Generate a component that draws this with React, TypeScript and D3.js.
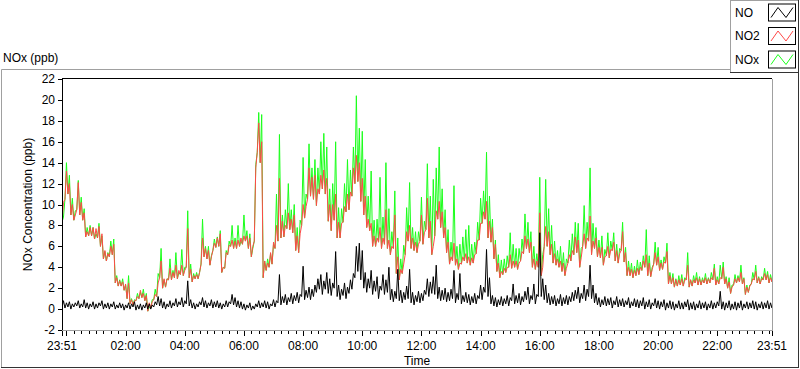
import React from "react";
import * as d3 from "d3";

// Each series read as a band (low / high) per 6-minute slot, 23:51 -> 23:51 next day (241 slots)
const STEP_MIN = 6;

const NO2_HI = [
  10.2,13.2,12.0,10.0,9.0,12.1,10.2,9.2,7.4,7.8,
  7.8,7.7,7.9,7.2,5.6,5.3,6.0,6.2,3.0,2.7,
  2.6,2.4,2.5,0.9,0.8,1.2,1.8,1.5,1.3,0.6,
  0.7,1.4,2.5,4.6,2.9,2.9,3.9,3.5,4.2,3.7,
  4.2,3.7,7.7,3.8,3.2,3.3,3.5,6.8,5.8,5.6,
  5.0,6.3,6.8,7.2,4.0,5.4,6.1,6.6,6.5,6.6,
  6.8,7.0,7.0,6.8,6.0,13.5,17.8,16.0,4.6,4.4,
  5.4,6.4,8.0,12.5,8.4,8.0,9.2,8.6,9.0,7.0,
  7.2,10.0,9.8,13.5,12.6,12.8,11.5,12.8,13.3,12.5,
  10.0,10.0,11.0,8.3,8.2,9.8,11.0,11.2,13.5,14.7,
  14.0,12.5,10.8,8.6,8.2,7.0,6.8,7.8,6.8,9.5,
  6.6,6.0,9.0,5.0,3.8,4.3,7.4,8.0,6.8,6.4,
  6.2,9.0,7.3,10.6,8.4,6.0,9.4,10.3,9.3,7.8,
  6.4,5.0,6.3,4.8,4.4,5.0,5.3,5.0,4.9,5.2,
  6.6,8.2,9.3,10.3,8.4,7.8,6.2,4.4,3.6,3.9,
  4.0,5.2,4.6,4.6,4.4,5.5,7.0,6.7,6.4,4.8,
  4.6,9.2,4.0,7.9,7.4,6.2,5.3,4.8,4.6,4.4,
  3.9,5.2,5.6,6.9,6.6,4.9,7.2,6.8,8.9,6.5,
  6.8,5.9,5.9,5.0,6.0,5.7,6.4,5.6,5.3,7.4,
  5.4,4.0,3.8,3.7,3.9,4.0,4.6,5.2,4.4,3.8,
  5.4,5.0,4.4,4.5,5.5,3.2,3.0,2.8,2.8,2.9,
  2.8,4.2,2.8,2.8,3.0,2.9,2.8,3.0,2.9,3.0,
  3.9,2.8,3.0,4.0,2.9,2.6,2.1,2.9,3.0,3.5,
  2.9,2.1,2.2,2.9,3.6,3.0,2.9,3.4,3.3,3.0,
  3.2,
];

const NO2_LO = [
  8.3,10.5,11.0,9.0,8.5,9.5,9.0,8.5,6.9,7.0,
  7.0,6.7,6.8,6.0,4.8,4.6,5.0,5.2,2.5,2.2,
  2.2,1.8,1.0,0.5,0.4,0.8,1.0,1.1,0.8,-0.2,
  0.1,0.9,1.2,3.0,2.0,2.1,2.8,2.8,3.0,2.9,
  3.3,3.2,4.0,3.0,2.6,2.9,2.9,4.3,5.0,4.8,
  4.2,5.6,5.9,6.0,3.5,3.9,5.2,6.0,5.8,5.8,
  6.0,6.2,6.5,5.8,5.0,6.5,15.0,14.0,3.0,3.7,
  4.0,4.3,5.8,6.5,6.8,6.9,7.7,7.6,7.3,5.6,
  5.4,8.0,8.7,10.5,10.8,10.5,9.9,11.0,11.5,11.0,
  8.4,7.5,8.5,6.8,6.8,8.3,9.3,9.5,10.8,12.0,
  12.2,10.3,9.0,7.8,7.5,6.0,6.0,6.4,5.8,6.2,
  5.8,5.2,5.8,3.4,2.8,3.4,5.2,6.5,5.8,5.6,
  5.4,6.5,6.2,7.6,6.8,5.2,7.0,8.6,7.8,6.8,
  5.4,4.3,4.6,4.2,3.8,4.3,4.6,4.4,4.2,4.4,
  5.3,6.6,8.2,8.6,6.8,6.4,4.8,3.6,3.0,3.3,
  3.5,4.0,3.9,4.0,3.8,4.6,5.3,5.8,5.4,4.0,
  3.8,4.0,3.2,6.0,6.0,5.2,4.4,4.2,4.0,3.6,
  3.2,4.4,4.6,5.2,5.4,4.0,6.0,5.8,6.5,5.2,
  5.8,5.0,4.9,4.2,5.1,4.9,5.6,4.6,4.4,5.6,
  4.5,3.2,3.2,3.0,3.2,3.3,3.7,4.0,3.2,3.1,
  4.3,4.2,3.7,3.8,4.4,2.4,2.4,2.1,2.2,2.3,
  2.2,2.8,2.1,2.2,2.5,2.3,2.3,2.5,2.4,2.5,
  2.8,2.3,2.4,2.9,2.4,2.0,1.5,2.3,2.5,2.6,
  2.4,1.4,1.6,2.4,2.8,2.5,2.4,2.8,2.8,2.5,
  2.6,
];

const NO_HI = [
  0.8,0.6,0.7,0.5,0.6,0.8,0.5,0.9,0.6,0.5,
  0.7,0.5,0.6,0.8,0.5,0.6,0.5,0.7,0.4,0.6,
  0.5,0.4,0.6,0.5,0.7,0.4,0.5,0.4,0.6,0.5,
  0.4,0.7,1.2,1.0,0.7,0.5,0.8,0.6,1.0,0.7,
  1.1,0.8,2.7,0.9,0.6,0.5,0.7,1.1,0.8,0.6,
  0.9,0.7,0.8,0.6,0.5,0.8,0.7,1.4,1.1,0.8,
  0.7,0.5,0.4,0.6,0.3,0.5,0.8,0.6,0.8,0.7,
  0.5,0.9,0.8,3.3,1.2,1.4,1.1,1.5,1.3,1.6,
  1.4,4.1,1.8,2.1,1.9,2.3,2.9,3.3,2.7,3.5,
  2.9,2.5,5.5,2.3,1.9,2.5,2.1,2.8,3.4,6.0,
  6.3,5.6,3.5,2.9,3.7,2.7,3.1,2.2,3.3,2.8,
  4.0,1.9,1.7,3.8,1.8,1.6,2.2,3.8,1.6,1.3,
  1.7,1.5,1.8,2.9,2.6,3.1,4.2,2.1,1.8,2.0,
  1.6,1.9,3.7,1.5,3.4,1.3,1.6,1.4,1.2,1.5,
  1.3,2.3,2.1,5.7,3.0,1.3,1.1,0.9,1.2,1.0,
  1.3,1.1,2.4,1.3,1.5,1.2,1.7,2.1,1.3,2.4,
  1.4,7.3,2.9,2.3,1.5,1.2,1.3,1.0,1.4,1.1,
  1.3,1.2,1.6,1.8,2.1,1.5,2.3,1.9,4.2,2.3,
  1.5,1.1,0.9,1.2,1.0,1.1,0.8,1.2,0.9,1.0,
  0.8,1.1,0.7,1.0,0.9,0.8,1.1,0.7,0.9,0.6,
  1.0,0.8,0.7,0.9,0.6,0.8,0.7,0.5,0.8,0.6,
  0.7,0.9,0.6,0.7,0.5,0.8,0.6,0.7,0.5,0.8,
  0.6,0.7,1.7,0.7,0.6,0.8,0.5,0.7,0.6,0.8,
  0.5,0.7,0.6,0.8,0.7,0.5,0.7,0.6,0.8,0.6,
  0.7,
];

const NO_LO = [
  0.2,0.1,0.2,0.0,0.2,0.3,0.1,0.2,0.1,0.0,
  0.2,0.0,0.1,0.3,0.0,0.1,0.0,0.2,0.0,0.1,
  0.1,-0.1,0.1,0.0,0.2,-0.1,0.0,-0.1,0.1,0.0,
  0.0,0.2,0.4,0.3,0.1,0.0,0.2,0.1,0.3,0.2,
  0.4,0.2,0.5,0.3,0.1,0.0,0.2,0.4,0.2,0.1,
  0.3,0.1,0.2,0.1,0.0,0.2,0.2,0.5,0.4,0.2,
  0.1,0.0,-0.1,0.1,-0.1,0.0,0.2,0.1,0.2,0.1,
  0.0,0.3,0.2,0.6,0.4,0.6,0.4,0.7,0.5,0.8,
  0.6,1.2,0.9,1.1,0.9,1.2,1.6,1.9,1.4,1.9,
  1.5,1.3,2.0,1.2,0.9,1.3,1.0,1.5,1.9,3.0,
  3.6,2.8,2.0,1.6,2.0,1.4,1.7,1.0,1.8,1.4,
  1.6,0.9,0.7,1.0,0.8,0.6,0.9,1.0,0.6,0.4,
  0.7,0.6,0.8,1.4,1.2,1.5,1.4,1.0,0.8,0.9,
  0.7,0.8,1.0,0.6,0.9,0.5,0.7,0.6,0.4,0.6,
  0.5,1.0,0.9,1.6,1.2,0.5,0.3,0.2,0.4,0.3,
  0.5,0.3,0.8,0.5,0.6,0.4,0.7,0.9,0.5,0.9,
  0.5,1.2,1.2,0.9,0.6,0.4,0.5,0.3,0.5,0.3,
  0.5,0.4,0.7,0.8,1.0,0.6,1.0,0.8,1.2,1.0,
  0.6,0.4,0.2,0.4,0.3,0.4,0.1,0.4,0.2,0.3,
  0.2,0.4,0.1,0.3,0.2,0.1,0.3,0.0,0.2,0.0,
  0.3,0.1,0.0,0.2,-0.1,0.1,0.0,-0.1,0.1,0.0,
  0.0,0.2,-0.1,0.0,-0.1,0.1,0.0,0.1,-0.1,0.1,
  0.0,0.1,0.3,0.0,-0.1,0.1,-0.1,0.0,-0.1,0.1,
  -0.1,0.1,0.0,0.1,0.0,-0.1,0.1,0.0,0.1,0.0,
  0.1,
];

const NOX_HI = [
  8.8,14.0,12.8,10.6,9.4,12.3,10.7,9.6,7.8,8.0,
  7.8,7.2,8.2,7.0,5.5,5.4,6.5,6.7,3.2,2.8,
  2.9,2.3,3.2,1.0,0.9,1.5,1.6,1.9,1.5,0.2,
  0.9,1.9,3.4,5.8,2.8,2.9,4.8,3.7,5.4,3.5,
  5.7,4.0,9.4,4.3,3.4,3.5,3.5,8.6,6.0,6.0,
  5.1,6.7,6.9,7.5,4.0,5.6,6.5,8.0,6.8,8.0,
  6.5,9.0,7.5,7.2,5.8,13.8,18.8,18.6,4.6,4.8,
  5.3,6.2,11.0,16.7,9.0,9.5,12.0,9.5,10.0,7.8,
  8.5,14.5,11.0,15.8,13.5,14.3,13.5,16.0,16.8,15.5,
  11.5,12.0,16.0,9.7,9.6,12.0,14.3,13.3,15.5,20.4,
  17.3,17.0,14.3,10.8,13.2,8.5,8.6,12.6,8.8,14.0,
  9.6,7.4,11.3,6.8,4.8,6.1,9.7,12.1,7.8,7.4,
  7.4,10.7,8.4,13.9,10.8,12.4,13.5,15.5,11.5,9.5,
  7.6,6.4,11.8,6.0,6.2,6.9,7.6,8.0,6.2,6.4,
  8.3,10.6,11.3,15.0,10.8,8.6,6.6,5.2,4.7,4.8,
  5.1,7.3,6.2,5.8,5.8,6.7,9.1,8.3,7.4,6.0,
  5.3,12.6,5.2,12.4,9.6,8.0,6.5,5.6,6.0,5.4,
  4.8,6.6,7.2,8.3,8.2,5.8,9.9,8.3,13.5,8.2,
  7.8,6.6,7.0,5.7,7.3,6.5,7.3,6.2,5.8,8.3,
  5.9,4.6,4.4,4.1,4.7,4.5,5.1,7.6,5.1,4.0,
  6.4,5.9,4.7,5.0,6.3,3.5,3.4,2.9,3.2,3.3,
  3.0,5.4,2.8,3.2,3.5,3.1,3.0,3.4,3.0,3.5,
  4.3,3.1,4.2,4.5,3.1,3.0,2.3,3.3,3.2,4.2,
  3.0,2.3,2.3,3.5,4.2,3.1,3.1,3.9,3.6,3.3,
  3.7,
];

const Y_TICKS = [-2, 0, 2, 4, 6, 8, 10, 12, 14, 16, 18, 20, 22];
const LEGEND = ["NO", "NO2", "NOx"];
const COLORS: Record<string, string> = { NO: "#000000", NO2: "#ff4848", NOx: "#1aff1a" };

const FONT = "'Liberation Sans', Arial, sans-serif";

export default function App() {
  const W = 800, H = 369;
  const L = 62, R = 772, T = 79, B = 330;
  const t0 = new Date(2000, 0, 1, 23, 51);
  const t1 = new Date(2000, 0, 2, 23, 51);
  const x = d3.scaleTime().domain([t0, t1]).range([L, R]);
  const y = d3.scaleLinear().domain([-2, 22]).range([B, T]);
  const stepMs = STEP_MIN * 60000;

  // band drawn LabVIEW-style: low value at slot start, high value half a slot later
  const bandPts = (lo: number[], hi: number[]) => {
    const pts: [Date, number][] = [];
    lo.forEach((v, i) => {
      pts.push([new Date(t0.getTime() + i * stepMs), v]);
      pts.push([new Date(t0.getTime() + i * stepMs + stepMs / 2), hi[i]]);
    });
    return pts;
  };
  const line = d3.line<[Date, number]>().x((d) => x(d[0])).y((d) => y(d[1]));

  const majors = d3.timeHour.every(2)!.range(t0, t1);
  const minors = d3.timeMinute.every(15)!.range(t0, t1);
  const fmt = d3.timeFormat("%H:%M");

  const series = [
    { key: "NOx", pts: bandPts(NO2_LO, NOX_HI) },
    { key: "NO2", pts: bandPts(NO2_LO, NO2_HI) },
    { key: "NO", pts: bandPts(NO_LO, NO_HI) },
  ];

  return (
    <svg width={W} height={H} style={{ position: "absolute", left: 0, top: 0, background: "#fff" }}
      fontFamily={FONT}>
      {/* outer panel frame */}
      <line x1={1.5} y1={69.5} x2={730} y2={69.5} stroke="#a0a0a0" />
      <line x1={1.5} y1={69.5} x2={1.5} y2={367.5} stroke="#a0a0a0" />
      <line x1={1} y1={367.5} x2={799} y2={367.5} stroke="#333" />
      <line x1={798.5} y1={72} x2={798.5} y2={368} stroke="#333" />

      <text x={3} y={62} fontSize={12} fill="#000">NOx (ppb)</text>

      {/* legend */}
      <rect x={730.5} y={0.5} width={68} height={72} fill="#fff" stroke="#a0a0a0" />
      <line x1={798.5} y1={0} x2={798.5} y2={73} stroke="#333" />
      <line x1={730} y1={72.5} x2={799} y2={72.5} stroke="#333" />
      {LEGEND.map((k, i) => {
        const cy = 12 + i * 23.5;
        const bx = 768, by = cy - 8.5;
        return (
          <g key={k}>
            <text x={735} y={cy + 4.5} fontSize={12} fill="#000">{k}</text>
            <rect x={bx + 0.5} y={by + 0.5} width={27} height={17} fill="#fff" stroke="#000" />
            <polyline points={`${bx + 3},${by + 14} ${bx + 10},${by + 4} ${bx + 18},${by + 14} ${bx + 25},${by + 4}`}
              fill="none" stroke={COLORS[k]} strokeWidth={1} />
          </g>
        );
      })}

      {/* plot area */}
      <defs>
        <clipPath id="plotclip"><rect x={L + 1} y={T + 1} width={R - L - 1} height={B - T - 1} /></clipPath>
      </defs>
      <g clipPath="url(#plotclip)">
        {series.map((s) => (
          <path key={s.key} d={line(s.pts) || ""} fill="none" stroke={COLORS[s.key]} strokeWidth={1}
            strokeLinejoin="miter" />
        ))}
      </g>
      <line x1={L + 0.5} y1={T} x2={L + 0.5} y2={B} stroke="#000" />
      <line x1={L} y1={T - 0.5} x2={R} y2={T - 0.5} stroke="#000" />
      <line x1={R + 0.5} y1={T} x2={R + 0.5} y2={B + 1} stroke="#a0a0a0" />
      <line x1={L} y1={B + 0.5} x2={R + 1} y2={B + 0.5} stroke="#a0a0a0" />

      {/* y axis */}
      {Y_TICKS.map((v) => (
        <g key={v}>
          <line x1={L - 4} y1={Math.round(y(v)) + 0.5} x2={L} y2={Math.round(y(v)) + 0.5} stroke="#000" />
          <text x={L - 7} y={y(v) + 4} fontSize={12} textAnchor="end" fill="#000">{v}</text>
        </g>
      ))}
      <text transform={`translate(32,${(T + B) / 2}) rotate(-90)`} fontSize={12} textAnchor="middle" fill="#000">
        NOx Concentration (ppb)
      </text>

      {/* x axis */}
      {minors.map((d, i) => (
        <line key={"m" + i} x1={Math.round(x(d)) + 0.5} y1={B + 1} x2={Math.round(x(d)) + 0.5} y2={B + 4} stroke="#000" />
      ))}
      {[t0, ...majors, t1].map((d, i) => (
        <line key={"M" + i} x1={Math.round(x(d)) + 0.5} y1={B + 1} x2={Math.round(x(d)) + 0.5} y2={B + 6} stroke="#000" />
      ))}
      {majors.filter((d) => d.getHours() !== 0).map((d, i) => (
        <text key={"l" + i} x={x(d)} y={B + 20} fontSize={12} textAnchor="middle" fill="#000">{fmt(d)}</text>
      ))}
      <text x={L} y={B + 20} fontSize={12} textAnchor="middle" fill="#000">{fmt(t0)}</text>
      <text x={R} y={B + 20} fontSize={12} textAnchor="middle" fill="#000">{fmt(t1)}</text>
      <text x={(L + R) / 2} y={B + 35} fontSize={12} textAnchor="middle" fill="#000">Time</text>
    </svg>
  );
}
